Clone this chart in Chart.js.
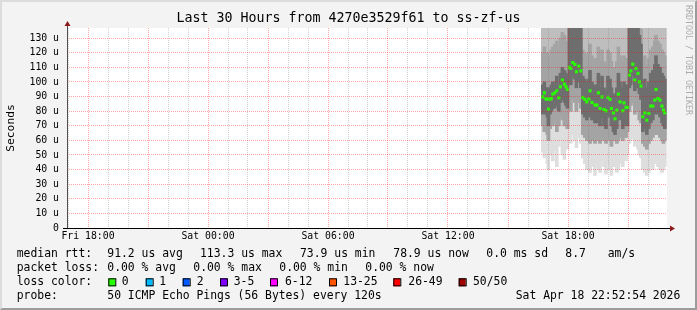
<!DOCTYPE html>
<html>
<head>
<meta charset="utf-8">
<script src="https://cdn.jsdelivr.net/npm/chart.js@4.4.1/dist/chart.umd.min.js"></script>
<style>
  html, body { margin: 0; padding: 0; background: #f3f3f3; }
  #wrap { width: 693px; height: 306px; border: 2px solid; border-color: #dcdcdc #9c9c9c #9c9c9c #dcdcdc; }
  canvas { display: block; }
</style>
</head>
<body>
<div id="wrap"><canvas id="smoke" width="693" height="306"></canvas></div>
<script>
// sample times in hours since Fri 00:00
var times = [40.74, 40.82, 40.90, 40.97, 41.02, 41.10, 41.17, 41.24, 41.34, 41.44,
  41.54, 41.62, 41.72, 41.82, 41.90, 41.97, 42.07, 42.14, 42.24, 42.34,
  42.42, 42.54, 42.64, 42.74, 42.84, 42.94, 43.04, 43.10, 43.20, 43.35,
  43.44, 43.52, 43.60, 43.70, 43.80, 43.90, 44.00, 44.10, 44.17, 44.27,
  44.35, 44.44, 44.52, 44.60, 44.74, 44.80, 44.90, 44.97, 45.07, 45.14,
  45.24, 45.34, 45.40, 45.50, 45.57, 45.65, 45.74, 45.84, 45.94, 46.04,
  46.14, 46.24, 46.34, 46.40, 46.50, 46.60, 46.70, 46.77, 46.84]

// median rtt (us)
var median = [89.8, 92.6, 88.3, 88.3, 81.4, 88.1, 88.7, 91.7, 92.6, 94.0,
  89.2, 96.7, 101.3, 98.5, 96.7, 94.9, 110.0, 109.3, 113.3, 112.0,
  107.0, 110.8, 107.6, 89.4, 88.1, 86.4, 88.3, 94.0, 86.0, 84.2,
  84.2, 92.6, 81.9, 89.8, 81.2, 80.3, 89.4, 88.1, 81.9, 78.9,
  74.8, 80.7, 91.7, 86.4, 80.3, 85.7, 82.6, 82.6, 104.7, 107.6,
  112.2, 101.3, 109.3, 105.9, 100.1, 97.2, 76.2, 78.9, 73.9, 78.5,
  83.5, 83.5, 87.6, 94.9, 88.7, 87.6, 83.5, 80.7, 78.9]

// smoke bands (us)
var smokeLo = [52, 48, 55, 44, 40, 50, 58, 46, 53, 42, 56, 60, 50, 47, 58, 54,
  62, 58, 64, 60, 55, 62, 58,
  48, 44, 40, 46, 38, 42, 36, 44, 40, 38, 46, 42, 37, 44, 40, 36, 42, 46, 38, 40, 44, 42, 48, 46, 50,
  58, 60, 62, 56, 60, 54, 50, 48,
  40, 38, 36, 38, 42, 40, 44, 48, 42, 40, 38, 40, 42]
var smokeP10 = [70, 66, 72, 64, 60, 68, 74, 70, 72, 66, 70, 76, 74, 70, 72, 68,
  84, 80, 88, 86, 80, 86, 82,
  64, 62, 60, 64, 58, 60, 58, 62, 60, 58, 62, 60, 58, 62, 60, 56, 60, 64, 58, 60, 62, 60, 64, 62, 66,
  80, 84, 86, 78, 84, 80, 74, 72,
  58, 56, 54, 58, 60, 62, 64, 68, 64, 62, 60, 58, 60]
var smokeP25 = [78, 82, 78, 76, 70, 78, 80, 82, 82, 84, 80, 86, 88, 86, 84, 82,
  100, 98, 104, 102, 96, 100, 96,
  78, 76, 74, 76, 80, 74, 72, 72, 78, 70, 76, 70, 68, 76, 76, 70, 66, 64, 68, 78, 74, 68, 72, 70, 70,
  96, 98, 104, 94, 100, 96, 92, 88,
  66, 68, 64, 68, 72, 74, 78, 84, 78, 76, 72, 70, 68]
var smokeP75 = [98, 100, 96, 96, 92, 96, 98, 100, 100, 104, 98, 106, 110, 108, 106, 104,
  140, 140, 140, 140, 140, 140, 140,
  104, 102, 100, 102, 108, 100, 98, 98, 106, 96, 104, 96, 94, 104, 102, 96, 92, 90, 96, 106, 100, 96, 100, 98, 98,
  140, 140, 140, 140, 140, 140, 132, 126,
  100, 102, 96, 100, 106, 108, 112, 118, 112, 110, 106, 104, 102]
var smokeP90 = [120, 124, 118, 120, 114, 118, 122, 124, 126, 128, 122, 130, 134, 132, 128, 126,
  140, 140, 140, 140, 140, 140, 140,
  122, 120, 118, 120, 126, 118, 116, 116, 124, 114, 122, 114, 112, 122, 120, 114, 110, 108, 114, 124, 118, 114, 118, 116, 116,
  140, 140, 140, 140, 140, 140, 140, 136,
  116, 118, 112, 116, 122, 124, 128, 132, 128, 126, 122, 120, 118]
var smokeTop = 140

var tickHours = [18, 24, 30, 36, 42]
var tickLabels = ['Fri 18:00', 'Sat 00:00', 'Sat 06:00', 'Sat 12:00', 'Sat 18:00']

var lossLabels = ['0', '1', '2', '3-5', '6-12', '13-25', '26-49', '50/50']
var lossColors = ['#26ff00', '#00b8ff', '#0059ff', '#7e00ff', '#ff00ff', '#ff5500', '#ff0000', '#a10000']

var mono = '"DejaVu Sans Mono", monospace'

var gridHours = []
for (var h = 17; h <= 46; h++) gridHours.push(h)

function band(lo, hi) {
    return times.map(function(t, i) {
        return { x: t, y: [lo[i], hi ? hi[i] : smokeTop] }
    })
}

var frame = {
    id: 'rrdFrame',
    beforeDraw: function(chart) {
        var c = chart.ctx, a = chart.chartArea
        c.save()
        c.fillStyle = '#f3f3f3'
        c.fillRect(0, 0, chart.width, chart.height)
        c.fillStyle = '#ffffff'
        c.fillRect(a.left, a.top, a.right - a.left, a.bottom - a.top)
        c.restore()
    },
    afterDraw: function(chart) {
        var c = chart.ctx, a = chart.chartArea
        c.save()
        // axes
        c.lineWidth = 1
        c.strokeStyle = '#505050'
        c.beginPath()
        c.moveTo(a.left + 0.5, a.bottom + 0.5)
        c.lineTo(a.left + 0.5, a.top - 4)
        c.stroke()
        c.strokeStyle = '#000000'
        c.beginPath()
        c.moveTo(a.left - 4, a.bottom + 0.5)
        c.lineTo(a.right + 4, a.bottom + 0.5)
        c.stroke()
        c.fillStyle = '#8b1a1a'
        c.beginPath()
        c.moveTo(a.left + 0.5, a.top - 7)
        c.lineTo(a.left - 2.5, a.top - 2)
        c.lineTo(a.left + 3.5, a.top - 2)
        c.fill()
        c.beginPath()
        c.moveTo(a.right + 8, a.bottom + 0.5)
        c.lineTo(a.right + 3, a.bottom - 2.5)
        c.lineTo(a.right + 3, a.bottom + 3.5)
        c.fill()

        // watermark
        c.fillStyle = '#acacac'
        c.font = '8.3px ' + mono
        c.translate(685.7, 3)
        c.rotate(Math.PI / 2)
        c.textAlign = 'left'
        c.textBaseline = 'middle'
        c.fillText('RRDTOOL / TOBI OETIKER', 0, 0)
        c.restore()

        // legend
        c.save()
        c.font = '11.4px ' + mono
        c.fillStyle = '#000000'
        c.textBaseline = 'middle'
        var rows = [
            [252, [[14.7, 'median rtt:'], [105.3, '91.2 us avg'], [198, '113.3 us max'], [298, '73.9 us min'],
                   [391.3, '78.9 us now'], [484.3, '0.0 ms sd'], [563.3, '8.7'], [605.7, 'am/s']]],
            [266, [[14.7, 'packet loss:'], [105.3, '0.00 % avg'], [191.3, '0.00 % max'], [277.3, '0.00 % min'],
                   [363.3, '0.00 % now']]],
            [280.3, [[14.7, 'loss color:']]],
            [294.3, [[14.7, 'probe:'], [105.3, '50 ICMP Echo Pings (56 Bytes) every 120s']]]
        ]
        rows.forEach(function(r) {
            r[1].forEach(function(t) { c.fillText(t[1], t[0], r[0]) })
        })
        var boxX = [106.3, 143.7, 180.7, 218, 268, 327, 391.3, 456.7]
        var labX = [119.7, 157.3, 194.7, 231.7, 283, 341.3, 406.3, 471]
        for (var i = 0; i < lossLabels.length; i++) {
            c.fillStyle = lossColors[i]
            c.fillRect(boxX[i], 276.3, 7, 8)
            c.strokeStyle = '#000000'
            c.strokeRect(boxX[i] + 0.5, 276.8, 7, 7)
            c.fillStyle = '#000000'
            c.fillText(lossLabels[i], labX[i], 280.3)
        }
        c.textAlign = 'right'
        c.fillText('Sat Apr 18 22:52:54 2026', 678.3, 294.3)
        c.restore()
    }
}

var ctx = document.getElementById('smoke').getContext('2d')

var chart = new Chart(ctx, {
    type: 'bar',
    data: {
        datasets: [{
            type: 'line',
            data: times.map(function(t, i) { return { x: t, y: median[i] } }),
            showLine: false,
            pointStyle: 'rect',
            pointRadius: 2.2,
            pointBorderWidth: 0,
            pointBackgroundColor: '#26ff00',
            order: 0,
            clip: 0
        }, {
            data: band(smokeP25, smokeP75),
            backgroundColor: '#6e6e6e',
            order: 1
        }, {
            data: band(smokeP10, smokeP90),
            backgroundColor: '#a4a4a4',
            order: 2
        }, {
            data: band(smokeP10),
            backgroundColor: '#bebebe',
            order: 3
        }, {
            data: band(smokeLo),
            backgroundColor: '#dedede',
            order: 4
        }]
    },
    options: {
        responsive: false,
        animation: false,
        layout: { padding: 0 },
        datasets: {
            bar: { grouped: false, barThickness: 3, borderWidth: 0, clip: 0 }
        },
        scales: {
            x: {
                type: 'linear',
                min: 16.95,
                max: 46.95,
                offset: false,
                afterBuildTicks: function(s) {
                    s.ticks = gridHours.map(function(v) { return { value: v } })
                },
                afterFit: function(s) { s.height = 80 },
                grid: {
                    offset: false,
                    drawTicks: false,
                    z: 1,
                    color: function(c) {
                        return c.tick && c.tick.value % 3 === 0 ? 'rgba(255,0,0,0.35)' : 'rgba(120,120,120,0.35)'
                    }
                },
                border: { display: false, dash: [1, 1] },
                ticks: {
                    autoSkip: false,
                    maxRotation: 0,
                    padding: 3,
                    color: '#000',
                    font: { family: mono, size: 9.8 },
                    callback: function(v) {
                        var k = tickHours.indexOf(v)
                        return k >= 0 ? tickLabels[k] : ''
                    }
                }
            },
            y: {
                min: 0,
                max: 137,
                afterFit: function(s) { s.width = 65 },
                grid: {
                    drawTicks: false,
                    z: 1,
                    color: function(c) {
                        var v = c.tick ? c.tick.value : 0
                        if (v === 0) return 'rgba(0,0,0,0)'
                        return v % 10 === 0 ? 'rgba(255,0,0,0.35)' : 'rgba(120,120,120,0.35)'
                    }
                },
                border: { display: false, dash: [1, 1] },
                title: {
                    display: true,
                    text: 'Seconds',
                    color: '#000',
                    padding: { top: 2, bottom: 0 },
                    font: { family: mono, size: 11.3 }
                },
                ticks: {
                    stepSize: 5,
                    includeBounds: false,
                    padding: 8,
                    color: '#000',
                    font: { family: mono, size: 9.8 },
                    callback: function(v) {
                        if (v % 10 !== 0) return ''
                        return v === 0 ? '0' : v + ' u'
                    }
                }
            },
            // empty right margin so the title centres on the whole image
            yr: {
                position: 'right',
                afterFit: function(s) { s.width = 28 },
                grid: { display: false },
                border: { display: false },
                ticks: { display: false }
            }
        },
        plugins: {
            legend: { display: false },
            tooltip: { enabled: false },
            title: {
                display: true,
                text: 'Last 30 Hours from 4270e3529f61 to ss-zf-us',
                color: '#000',
                padding: { top: 9, bottom: 1 },
                font: { family: mono, size: 13.3, weight: 'normal' }
            }
        }
    },
    plugins: [frame]
})
</script>
</body>
</html>
